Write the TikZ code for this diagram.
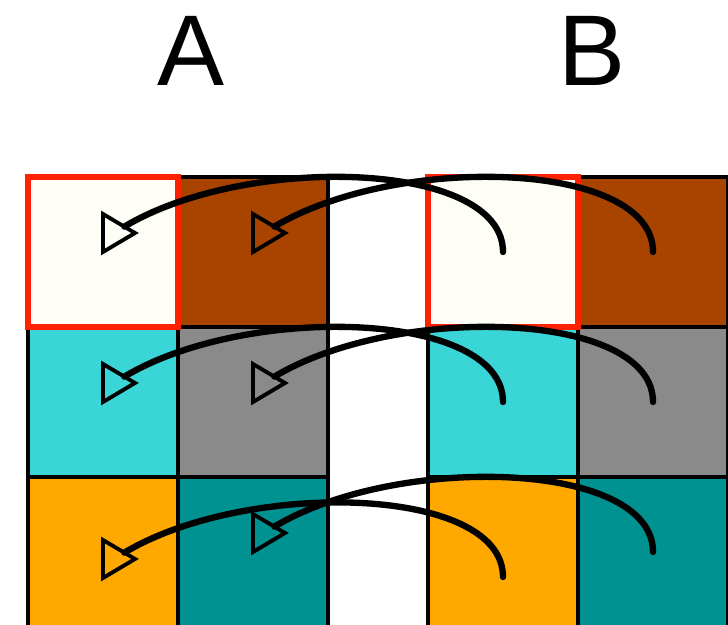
\documentclass[tikz,border=0pt]{standalone}
\usepackage{fontspec}
\setmainfont{Liberation Sans}
\usepackage{xcolor}
\usetikzlibrary{shapes.geometric, positioning}

\definecolor{cIvory}{RGB}{254,254,246}
\definecolor{cBrown}{RGB}{168,68,0}
\definecolor{cCyan}{RGB}{58,213,214}
\definecolor{cGray}{RGB}{138,138,138}
\definecolor{cOrange}{RGB}{255,168,0}
\definecolor{cTeal}{RGB}{0,145,145}
\definecolor{cRed}{RGB}{255,34,0}

\begin{document}
\begin{tikzpicture}[
  cell/.style={draw,line width=1pt,minimum size=1.5cm,inner sep=0pt,outer sep=0pt},
  sel/.style={draw=cRed,line width=1.8pt},
  link/.style={line width=1.8pt,line cap=round},
  swing/.style={out=90,in=31,out distance=0.92cm,in distance=1.42cm},
  head/.style={draw,isosceles triangle,isosceles triangle stretches,minimum height=0.32cm,minimum width=0.38cm,inner sep=0pt,outer sep=0pt,line width=1.1pt,anchor=apex},
  lbl/.style={font=\fontsize{28.6}{34}\selectfont,anchor=base,inner sep=0pt}]
  \useasboundingbox (0,0) rectangle (7.28,6.24);
  % labels
  \node[lbl] (labA) at (1.915,5.38) {A};
  \node[lbl] (labB) at (5.925,5.38) {B};
  % grid A
  \node[cell,fill=cIvory] (a00) at (1.03,3.72) {};
  \node[cell,fill=cBrown,right=0pt of a00] (a01) {};
  \node[cell,fill=cCyan,below=0pt of a00] (a10) {};
  \node[cell,fill=cGray,right=0pt of a10] (a11) {};
  \node[cell,fill=cOrange,below=0pt of a10] (a20) {};
  \node[cell,fill=cTeal,right=0pt of a20] (a21) {};
  % grid B
  \node[cell,fill=cIvory,right=1cm of a01] (b00) {};
  \node[cell,fill=cBrown,right=0pt of b00] (b01) {};
  \node[cell,fill=cCyan,below=0pt of b00] (b10) {};
  \node[cell,fill=cGray,right=0pt of b10] (b11) {};
  \node[cell,fill=cOrange,below=0pt of b10] (b20) {};
  \node[cell,fill=cTeal,right=0pt of b20] (b21) {};
  % selected cells
  \draw[sel] (a00.south west) rectangle (a00.north east);
  \draw[sel] (b00.south west) rectangle (b00.north east);
  % heads
  \node[head] (ha00) at ([shift={(0.32,0.19)}]a00.center) {};
  \node[head] (ha01) at ([shift={(0.32,0.19)}]a01.center) {};
  \node[head] (ha10) at ([shift={(0.32,0.19)}]a10.center) {};
  \node[head] (ha11) at ([shift={(0.32,0.19)}]a11.center) {};
  \node[head] (ha20) at ([shift={(0.32,-0.07)}]a20.center) {};
  \node[head] (ha21) at ([shift={(0.32,0.19)}]a21.center) {};
  % copies
  \draw[link] (b00.center) to[swing] (ha00);
  \draw[link] (b01.center) to[swing] (ha01);
  \draw[link] (b10.center) to[swing] (ha10);
  \draw[link] (b11.center) to[swing] (ha11);
  \draw[link] ([yshift=-0.25cm]b20.center) to[swing] (ha20);
  \draw[link] (b21.center) to[swing] (ha21);
\end{tikzpicture}
\end{document}
